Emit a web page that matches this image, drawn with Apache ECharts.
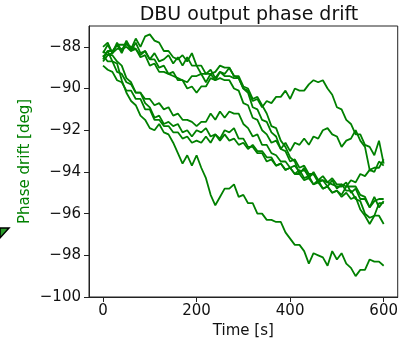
<!DOCTYPE html>
<html lang="en">
<head>
<meta charset="UTF-8">
<title>DBU output phase drift</title>
<script src="https://cdn.jsdelivr.net/npm/echarts@6/dist/echarts.min.js"></script>
<style>
  html, body { margin: 0; padding: 0; background: #fff; }
  #main { width: 401px; height: 344px; }
</style>
</head>
<body>
<div id="main"></div>
<script>
// time axis, one sample every 10 s
var times = [];
for (var t = 0; t <= 600; t += 10) times.push(t);

var xTicks = [0, 200, 400, 600];
var yTicks = [-100, -98, -96, -94, -92, -90, -88];

// phase drift of each run [deg]
var run1 = [-88.5,-88.2,-88.7,-88.8,-89.6,-90.2,-90.6,-90.8,-91.3,-91.5,-91.9,-92.0,-91.7,-92.1,-92.2,-92.6,-93.1,-93.6,-93.2,-93.7,-93.2,-93.8,-94.3,-95.1,-95.6,-95.2,-94.8,-94.8,-94.6,-95.2,-95.1,-95.5,-95.5,-96.0,-96.0,-96.3,-96.3,-96.4,-96.4,-96.9,-97.2,-97.5,-97.5,-97.8,-98.4,-97.9,-98.0,-98.1,-98.5,-97.8,-98.2,-97.9,-98.4,-98.6,-99.0,-98.7,-98.7,-98.2,-98.3,-98.3,-98.5];
var run2 = [-88.3,-87.9,-88.3,-87.8,-88.2,-87.7,-88.1,-87.6,-88.0,-87.5,-87.4,-87.7,-87.8,-88.2,-88.2,-88.5,-88.6,-88.4,-88.7,-88.3,-88.9,-88.9,-89.3,-89.3,-89.2,-88.9,-89.0,-89.0,-89.4,-89.4,-89.9,-90.0,-90.5,-90.4,-90.8,-91.2,-91.8,-91.9,-92.5,-92.8,-93.3,-93.5,-94.1,-93.8,-94.3,-94.0,-94.4,-94.4,-94.5,-94.6,-94.7,-94.7,-94.5,-95.0,-94.8,-95.3,-95.3,-95.7,-95.2,-95.7,-95.4];
var run3 = [-88.0,-87.8,-88.3,-87.9,-88.3,-87.8,-88.2,-87.8,-88.3,-88.2,-88.6,-88.3,-88.7,-88.6,-88.4,-88.8,-88.5,-88.9,-88.5,-88.9,-88.9,-89.3,-89.3,-89.1,-89.5,-89.2,-89.4,-89.4,-89.5,-89.5,-90.0,-90.1,-90.6,-90.5,-90.9,-90.6,-90.7,-90.4,-90.4,-90.1,-90.5,-90.0,-90.1,-90.1,-89.8,-89.6,-89.7,-89.6,-90.0,-90.3,-90.9,-91.0,-91.5,-91.7,-92.2,-92.2,-92.7,-92.8,-93.2,-92.5,-93.6];
var run4 = [-88.6,-88.2,-88.2,-87.9,-87.9,-87.9,-88.0,-88.1,-88.5,-88.4,-88.9,-88.8,-89.2,-89.2,-89.3,-89.4,-89.5,-89.6,-89.7,-89.4,-89.4,-89.3,-89.7,-89.3,-89.6,-89.5,-89.6,-89.6,-90.0,-90.1,-90.7,-90.8,-91.4,-91.5,-92.0,-92.2,-92.6,-92.5,-92.9,-92.6,-93.0,-92.6,-92.7,-92.4,-92.7,-92.3,-92.4,-92.0,-91.9,-92.2,-92.3,-92.8,-92.5,-92.4,-92.0,-92.5,-92.8,-93.9,-93.8,-93.8,-93.4];
var run5 = [-88.4,-88.7,-88.7,-89.2,-89.3,-89.7,-89.8,-90.2,-90.2,-90.5,-90.5,-90.8,-90.7,-91.0,-90.9,-91.3,-91.2,-91.5,-91.5,-91.6,-91.8,-91.6,-91.6,-91.2,-91.5,-91.1,-91.4,-91.1,-91.2,-91.2,-91.7,-91.9,-92.3,-92.2,-92.7,-92.7,-93.1,-93.2,-93.5,-93.5,-93.8,-93.7,-94.0,-93.9,-94.2,-94.1,-94.5,-94.4,-94.7,-94.4,-94.8,-94.6,-94.7,-94.4,-94.5,-94.1,-94.2,-93.9,-94.0,-93.5,-93.7];
var run6 = [-88.9,-89.1,-89.2,-89.6,-89.7,-90.1,-90.1,-90.5,-90.5,-91.0,-91.0,-91.5,-91.5,-91.8,-91.8,-92.1,-92.1,-92.4,-92.3,-92.6,-92.5,-92.6,-92.3,-92.6,-92.2,-92.5,-92.2,-92.5,-92.4,-92.7,-92.6,-92.9,-92.7,-93.0,-93.0,-93.3,-93.3,-93.7,-93.6,-93.9,-93.8,-94.1,-94.1,-94.4,-94.3,-94.6,-94.4,-94.8,-94.7,-95.0,-94.9,-95.2,-95.0,-95.3,-95.2,-95.8,-96.1,-96.5,-96.1,-96.1,-96.5];
var run7 = [-88.2,-88.4,-88.4,-88.7,-88.9,-89.5,-89.7,-90.2,-90.2,-90.7,-90.9,-91.4,-91.3,-91.7,-91.6,-91.8,-91.7,-92.1,-92.0,-92.3,-92.0,-92.1,-91.9,-92.3,-92.2,-92.4,-92.0,-92.1,-91.9,-92.4,-92.4,-92.8,-92.8,-93.1,-93.1,-93.5,-93.4,-93.7,-93.6,-93.9,-93.8,-94.1,-93.9,-94.3,-94.2,-94.6,-94.5,-94.8,-94.7,-95.0,-94.9,-95.1,-94.7,-94.7,-94.7,-95.1,-95.2,-95.7,-95.4,-95.3,-95.3];
var run8 = [-88.7,-88.4,-88.3,-88.1,-88.1,-88.0,-88.2,-88.1,-88.4,-88.2,-88.6,-88.6,-89.0,-88.9,-89.3,-89.2,-89.6,-89.6,-90.0,-89.9,-90.2,-89.9,-89.9,-89.5,-89.6,-89.2,-89.3,-89.0,-89.4,-89.5,-90.0,-90.2,-90.9,-91.0,-91.5,-91.6,-92.1,-92.3,-92.9,-93.0,-93.5,-93.4,-93.8,-93.7,-94.1,-94.1,-94.4,-94.2,-94.5,-94.3,-94.6,-94.6,-94.9,-94.9,-95.3,-95.4,-96.0,-96.2,-96.1,-95.5,-95.5];

var runs = [run1, run2, run3, run4, run5, run6, run7, run8];

var font = 'DejaVu Sans';
var myChart = echarts.init(document.getElementById('main'));

var series = runs.map(function (run) {
    return {
        type: 'line',
        data: times.map(function (t, i) { return [t, run[i]]; }),
        showSymbol: false,
        lineStyle: { color: '#008000', width: 1.8 },
        silent: true
    };
});

var option = {
    animation: false,
    title: {
        text: 'DBU output phase drift',
        left: 244, top: 1, textAlign: 'center',
        textStyle: { fontFamily: font, fontSize: 19, fontWeight: 'normal', color: '#111' }
    },
    grid: { left: 89, right: 1, top: 26, bottom: 47, show: true, borderColor: '#222', borderWidth: 1 },
    xAxis: {
        type: 'value', min: -30, max: 630,
        name: 'Time [s]', nameLocation: 'middle', nameGap: 27, nameMoveOverlap: false,
        nameTextStyle: { fontFamily: font, fontSize: 15, color: '#111' },
        splitLine: { show: false },
        axisLine: { show: true, onZero: false, lineStyle: { color: '#222' } },
        axisTick: { show: true, inside: false, length: 5, customValues: xTicks, lineStyle: { color: '#222' } },
        axisLabel: { customValues: xTicks, margin: 7, fontFamily: font, fontSize: 15, color: '#111' }
    },
    yAxis: {
        type: 'value', min: -100, max: -87,
        name: 'Phase drift [deg]', nameLocation: 'middle', nameGap: 56, nameMoveOverlap: false,
        nameTextStyle: { fontFamily: font, fontSize: 15, color: '#008000' },
        splitLine: { show: false },
        axisLine: { show: true, onZero: false, lineStyle: { color: '#222' } },
        axisTick: { show: true, inside: false, length: 5, customValues: yTicks, lineStyle: { color: '#222' } },
        axisLabel: {
            customValues: yTicks, margin: 8, fontFamily: font, fontSize: 15, color: '#111',
            formatter: function (v) { return String(v).replace('-', '\u2212'); }
        }
    },
    graphic: [{
        type: 'polygon',
        shape: { points: [[0, 228], [9, 228], [0, 238]] },
        style: { fill: '#2a9d2a', stroke: '#000', lineWidth: 1.5 }
    }],
    series: series
};

myChart.setOption(option);
</script>
</body>
</html>
